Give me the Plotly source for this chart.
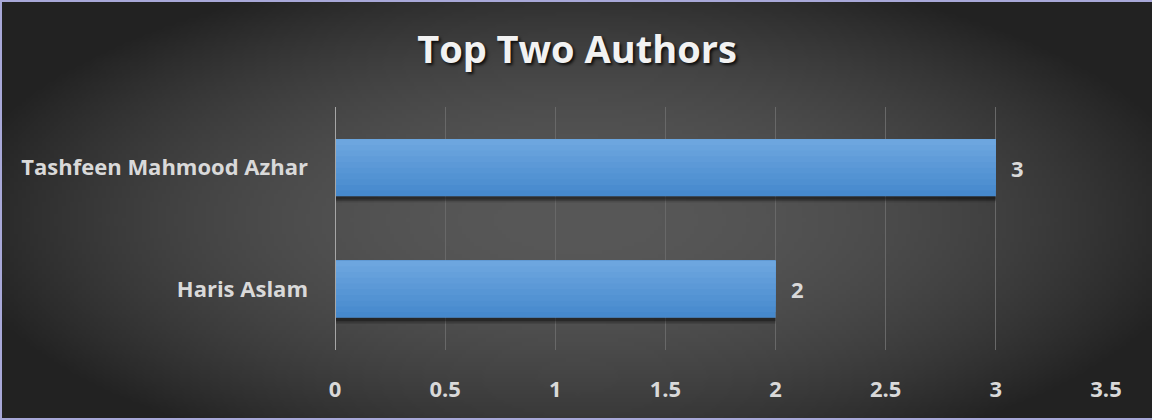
import base64, struct, zlib
import numpy as np
import plotly.graph_objects as go

# ---- data ----
authors = ["Haris Aslam", "Tashfeen Mahmood Azhar"]
counts = [2, 3]
tick_vals = [0, 0.5, 1, 1.5, 2, 2.5, 3, 3.5]
tick_text = ["0", "0.5", "1", "1.5", "2", "2.5", "3", "3.5"]
title_text = "Top Two Authors"

W, H = 1152, 420
ML, MR, MT, MB = 335, 46, 107, 70
PW, PH = W - ML - MR, H - MT - MB


def make_png(w, h):
    ys, xs = np.mgrid[0:h, 0:w]
    cx, cy = w * 0.5, h * 0.52
    dx = (xs - cx) / (w * 0.55)
    dy = (ys - cy) / (h * 0.62)
    r = np.sqrt(dx * dx + dy * dy)
    t = np.clip(1 - r ** 2, 0, 1)
    v = (34 + (88 - 34) * t).astype(np.uint8)
    raw = b"".join(b"\x00" + bytes(np.stack([row, row, row], -1).ravel()) for row in v)

    def chunk(tag, data):
        c = struct.pack(">I", len(data)) + tag + data
        return c + struct.pack(">I", zlib.crc32(tag + data) & 0xFFFFFFFF)

    png = b"\x89PNG\r\n\x1a\n" + chunk(b"IHDR", struct.pack(">IIBBBBB", w, h, 8, 2, 0, 0, 0))
    png += chunk(b"IDAT", zlib.compress(raw, 9)) + chunk(b"IEND", b"")
    return "data:image/png;base64," + base64.b64encode(png).decode()


bg = make_png(288, 105)

x0p, x1p = -ML / PW, (W - ML) / PW
y0p, y1p = -MB / PH, (H - MB) / PH

font_lbl = dict(family="Open Sans", size=22, color="#d9d9d9", weight="bold")

BW = 0.47
fig = go.Figure()
# soft shadow below bars
for k, a in enumerate([0.12, 0.18, 0.28]):
    fig.add_trace(go.Bar(
        y=authors, x=counts, orientation="h", width=0.05 - k * 0.012,
        offset=-BW / 2 - 0.05 + k * 0.012,
        marker=dict(color=f"rgba(0,0,0,{a})", line=dict(width=0)),
        hoverinfo="skip", showlegend=False,
    ))
# bar drawn with a vertical gradient: overlapping layers, each reaching the top
top, bot = np.array([112, 168, 224]), np.array([68, 136, 204])
NS = 10
for i in range(NS):
    f = (i + 0.5) / NS
    c = bot + (top - bot) * f
    fig.add_trace(go.Bar(
        y=authors, x=counts, orientation="h", width=BW - i * BW / NS,
        offset=-BW / 2 + i * BW / NS,
        marker=dict(color="rgb(%d,%d,%d)" % tuple(c.astype(int)), line=dict(width=0)),
        hoverinfo="skip" if i else None, showlegend=False,
    ))

annotations = [
    dict(x=v, y=a, xref="x", yref="y", text=str(v), showarrow=False,
         xanchor="left", xshift=13, font=font_lbl)
    for a, v in zip(authors, counts)
]

fig.update_layout(
    width=W, height=H,
    margin=dict(l=ML, r=MR, t=MT, b=MB),
    paper_bgcolor="#2a2a2a", plot_bgcolor="rgba(0,0,0,0)",
    barmode="overlay",
    title=dict(text=title_text, x=577 / W, xref="container", xanchor="center",
               y=1 - 50 / H, yanchor="middle",
               font=dict(family="Open Sans", size=38, color="#f2f2f2", weight="bold",
                         shadow="2px 2px 3px rgba(0,0,0,0.8)")),
    xaxis=dict(range=[0, 3.5], tickvals=tick_vals, ticktext=tick_text,
               showgrid=True, gridcolor="#686868", gridwidth=1, zeroline=False,
               showline=False, tickfont=font_lbl, ticks="", ticklabelstandoff=24,
               fixedrange=True),
    yaxis=dict(categoryorder="array", categoryarray=authors, showgrid=False,
               zeroline=False, showline=False, tickfont=font_lbl, ticks="",
               ticklabelstandoff=26, fixedrange=True),
    annotations=annotations,
    images=[dict(source=bg, xref="paper", yref="paper", x=x0p, y=y1p,
                 sizex=x1p - x0p, sizey=y1p - y0p, sizing="stretch",
                 xanchor="left", yanchor="top", layer="below")],
    shapes=[
        dict(type="line", xref="x", yref="paper", x0=0, x1=0, y0=0, y1=1,
             line=dict(color="#a6a6a6", width=2), layer="above"),
        # frame: left, top, bottom edges
        dict(type="line", xref="paper", yref="paper", x0=x0p + 1 / PW, x1=x0p + 1 / PW,
             y0=y0p, y1=y1p, line=dict(color="#a8a8d8", width=2)),
        dict(type="line", xref="paper", yref="paper", x0=x0p, x1=x1p,
             y0=y1p - 1 / PH, y1=y1p - 1 / PH, line=dict(color="#a8a8d8", width=2)),
        dict(type="line", xref="paper", yref="paper", x0=x0p, x1=x1p,
             y0=y0p + 1 / PH, y1=y0p + 1 / PH, line=dict(color="#a8a8d8", width=2)),
    ],
)

fig.write_html("out.html", config={"displayModeBar": False},
               post_script="document.body.style.margin='0';document.body.style.overflow='hidden';")
